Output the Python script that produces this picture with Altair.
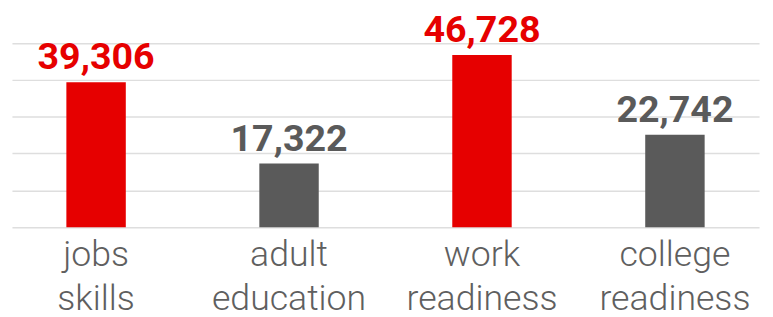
import altair as alt
import pandas as pd

categories = ["jobs skills", "adult education", "work readiness", "college readiness"]
label_values = [39306, 17322, 46728, 22742]
bar_heights = [39306, 17322, 46728, 25100]
highlight = [True, False, True, False]
grid_values = [0, 10000, 20000, 30000, 40000, 50000]

RED = "#e60000"
GRAY = "#5a5a5a"

df = pd.DataFrame({
    "cat": categories,
    "value": bar_heights,
    "label": [f"{v:,}" for v in label_values],
    "hl": ["y" if h else "n" for h in highlight],
})

color = alt.Color("hl:N", scale=alt.Scale(domain=["y", "n"], range=[RED, GRAY]), legend=None)

x = alt.X(
    "cat:N",
    sort=categories,
    scale=alt.Scale(paddingInner=0.692, paddingOuter=0.282),
    axis=alt.Axis(
        title=None,
        labelAngle=0,
        labelExpr="split(datum.label, ' ')",
        labelFont="Roboto",
        labelFontWeight=300,
        labelFontSize=36,
        labelLineHeight=44,
        labelColor="#5f5f5f",
        labelPadding=11,
        labelBaseline="top",
        ticks=False,
        domain=False,
    ),
)
y = alt.Y(
    "value:Q",
    scale=alt.Scale(domain=[0, 50428], nice=False),
    axis=alt.Axis(
        title=None,
        labels=False,
        ticks=False,
        domain=False,
        values=grid_values,
        gridColor="#dedede",
        gridWidth=1.5,
    ),
)

bars = alt.Chart(df).mark_bar().encode(x=x, y=y, color=color)
texts = alt.Chart(df).mark_text(
    font="Roboto", fontWeight="bold", fontSize=38, baseline="alphabetic", dy=-13
).encode(x=x, y=y, text="label:N", color=color)

chart = (
    alt.layer(bars, texts)
    .properties(
        width=755,
        height=188,
        padding={"left": 4, "top": 32, "right": 6, "bottom": 89},
        autosize=alt.AutoSizeParams(type="none"),
    )
    .configure_view(stroke=None)
)

chart.save("out.html", embed_options={"renderer": "svg", "actions": False})
